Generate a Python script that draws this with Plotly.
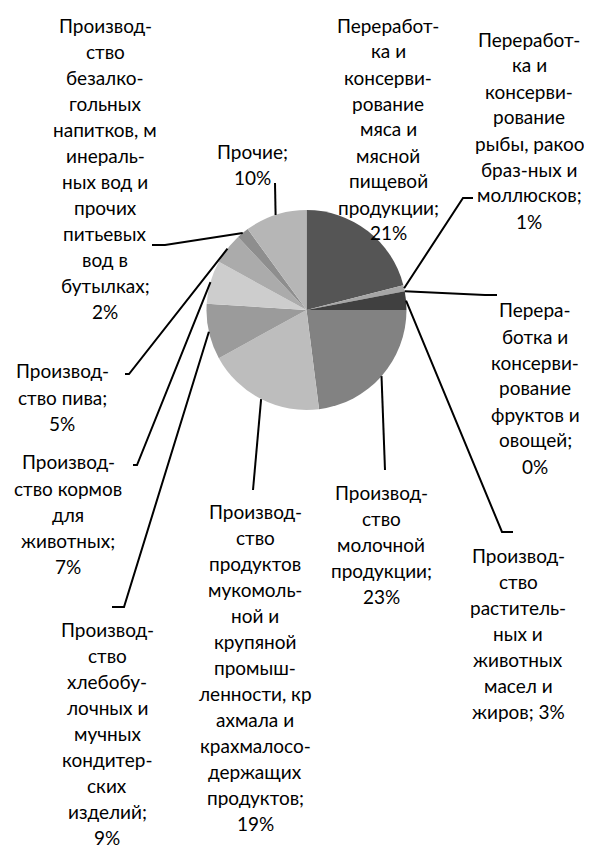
import math
import plotly.graph_objects as go

# ---------------- data ----------------
categories = [
    "Переработка и консервирование мяса и мясной пищевой продукции",
    "Переработка и консервирование рыбы, ракообразных и моллюсков",
    "Переработка и консервирование фруктов и овощей",
    "Производство растительных и животных масел и жиров",
    "Производство молочной продукции",
    "Производство продуктов мукомольной и крупяной промышленности, крахмала и крахмалосодержащих продуктов",
    "Производство хлебобулочных и мучных кондитерских изделий",
    "Производство кормов для животных",
    "Производство пива",
    "Производство безалкогольных напитков, минеральных вод и прочих питьевых вод в бутылках",
    "Прочие",
]
values = [21, 1, 0, 3, 23, 19, 9, 7, 5, 2, 10]

label_templates = [
    "Переработ-<br>ка и<br>консерви-<br>рование<br>мяса и<br>мясной<br>пищевой<br>продукции;<br>{p}%",
    "Переработ-<br>ка и<br>консерви-<br>рование<br>рыбы, ракоо<br>браз-ных и<br>моллюсков;<br>{p}%",
    "Перера-<br>ботка и<br>консерви-<br>рование<br>фруктов и<br>овощей;<br>{p}%",
    "Производ-<br>ство<br>раститель-<br>ных и<br>животных<br>масел и<br>жиров; {p}%",
    "Производ-<br>ство<br>молочной<br>продукции;<br>{p}%",
    "Производ-<br>ство<br>продуктов<br>мукомоль-<br>ной и<br>крупяной<br>промыш-<br>ленности, кр<br>ахмала и<br>крахмалосо-<br>держащих<br>продуктов;<br>{p}%",
    "Производ-<br>ство<br>хлебобу-<br>лочных и<br>мучных<br>кондитер-<br>ских<br>изделий;<br>{p}%",
    "Производ-<br>ство кормов<br>для<br>животных;<br>{p}%",
    "Производ-<br>ство пива;<br>{p}%",
    "Производ-<br>ство<br>безалко-<br>гольных<br>напитков, м<br>инераль-<br>ных вод и<br>прочих<br>питьевых<br>вод в<br>бутылках;<br>{p}%",
    "Прочие;<br>{p}%",
]

# ---------------- styles / layout ----------------
slice_colors = ["#555555", "#a6a6a6", "#7a7a7a", "#404040", "#828282",
                "#bdbdbd", "#9b9b9b", "#cdcdcd", "#ababab", "#8e8e8e", "#b6b6b6"]

W, H = 592, 850
OFF = 8.0                          # page body margin of the html wrapper
CX, CY, R = 306.5, 310.0, 100.0   # pie centre / radius in page pixels
LINE = 26.0                        # label line spacing (px)
FONT = dict(family="Lato, 'Noto Sans', sans-serif", size=19, color="black")

# label block: centre x, first line centre y (page px)
label_pos = [
    (388, 25), (529, 39), (535, 310), (518, 555), (381, 492),
    (255, 511), (107, 629), (68, 462), (62, 371), (105, 25.5), (252, 151.5),
]
# leader start points (page px) before reaching the slice (None = no leader)
leader_start = [
    None,
    [(473, 198), (463, 198)],
    [(497, 295), (485, 295)],
    [(513, 532), (502, 532)],
    [(385, 470)],
    [(253, 490)],
    [(112, 607), (124, 607)],
    [(133, 465), (137, 465)],
    [(125, 374), (129, 374)],
    [(152, 245), (165, 245)],
    [(275, 183)],
]


def px(x):
    return (x - OFF) / W


def py(y):
    return 1 - (y - OFF) / H


fig = go.Figure()
fig.add_trace(go.Pie(
    labels=categories,
    values=values,
    sort=False,
    direction="clockwise",
    rotation=0,
    textinfo="none",
    hoverinfo="label+percent",
    marker=dict(colors=slice_colors, line=dict(color="white", width=0)),
    domain=dict(x=[px(CX - R), px(CX + R)], y=[py(CY + R), py(CY - R)]),
    showlegend=False,
))

total = float(sum(values))
cum = 0.0
shapes = []
annotations = []
for i, v in enumerate(values):
    mid = 2 * math.pi * (cum + v / 2.0) / total
    cum += v
    ax = CX + R * math.sin(mid)
    ay = CY - R * math.cos(mid)
    pts = leader_start[i]
    if pts:
        pts = pts + [(ax, ay)]
        path = "M " + " L ".join(f"{px(x):.5f},{py(y):.5f}" for x, y in pts)
        shapes.append(dict(type="path", path=path, xref="paper", yref="paper",
                           line=dict(color="black", width=2)))
    lx, ly = label_pos[i]
    for k, line in enumerate(label_templates[i].format(p=v).split("<br>")):
        annotations.append(dict(
            text=line,
            x=px(lx), y=py(ly + k * LINE), xref="paper", yref="paper",
            xanchor="center", yanchor="middle", align="center",
            showarrow=False, font=FONT, borderpad=0,
        ))

fig.update_layout(
    width=W, height=H,
    margin=dict(l=0, r=0, t=0, b=0),
    paper_bgcolor="white", plot_bgcolor="white",
    shapes=shapes, annotations=annotations,
)

fig.write_html("out.html")
